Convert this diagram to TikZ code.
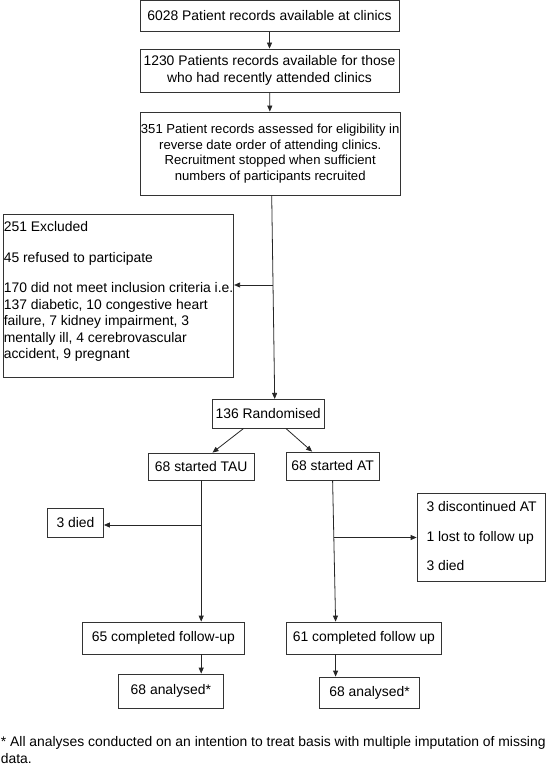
\documentclass[tikz,border=0pt]{standalone}
\usepackage{fontspec}
\setmainfont{Liberation Sans}
\usetikzlibrary{arrows.meta}

\tikzstyle{box} = [draw=black!80, line width=0.8pt, inner sep=1pt, align=center, font=\fontsize{13.9}{16.5}\selectfont]
\tikzstyle{list} = [inner sep=0pt, align=left, anchor=north west, font=\fontsize{13.9}{16.5}\selectfont]
\tikzstyle{arr} = [draw=black!85, line width=0.8pt, -{Triangle[length=6pt,width=5pt]}]

\begin{document}
\begin{tikzpicture}[x=1pt, y=-1pt]
\useasboundingbox (0,0) rectangle (548,765);

\node[box, minimum width=259pt, minimum height=31pt] (avail) at (269.5,16) {6028 Patient records available at clinics};
\node[box, minimum width=259pt, minimum height=43pt] (recent) at (269.5,70.5) {1230 Patients records available for those\\who had recently attended clinics};
\node[box, minimum width=260pt, minimum height=83pt, font=\fontsize{13.1}{15.6}\selectfont] (assess) at (270.2,153.5) {351 Patient records assessed for eligibility in\\reverse date order of attending clinics.\\Recruitment stopped when sufficient\\numbers of participants recruited};

\node[box, minimum width=230.4pt, minimum height=163pt] (excl) at (118.5,295.5) {};
\node[list] (excltext) at ([xshift=0.7pt,yshift=-7.7pt]excl.north west) {251 Excluded\\[14.2pt]
45 refused to participate\\[14.2pt]
170 did not meet inclusion criteria i.e.\\
137 diabetic, 10 congestive heart\\
failure, 7 kidney impairment, 3\\
mentally ill, 4 cerebrovascular\\
accident, 9 pregnant};

\node[box, minimum width=111.7pt, minimum height=28.7pt] (rand) at (268.2,413.7) {136 Randomised};
\node[box, minimum width=106pt, minimum height=27pt] (tau) at (201.2,466.5) {68 started TAU};
\node[box, minimum width=92.6pt, minimum height=28pt] (at) at (332.6,466) {68 started AT};

\node[box, minimum width=56pt, minimum height=29pt] (died) at (75.5,522.5) {3 died};
\node[box, minimum width=128pt, minimum height=88pt] (drop) at (481,537) {};
\node[list] (droptext) at ([xshift=9.7pt,yshift=-8.7pt]drop.north west) {3 discontinued AT\\[13pt]
1 lost to follow up\\[13pt]
3 died};

\node[box, minimum width=161.8pt, minimum height=32pt] (doneL) at (163.4,638) {65 completed follow-up};
\node[box, minimum width=155.1pt, minimum height=32pt] (doneR) at (363.9,638) {61 completed follow up};
\node[box, minimum width=105.6pt, minimum height=34pt] (anaL) at (170.9,691) {68 analysed*};
\node[box, minimum width=99.6pt, minimum height=31pt] (anaR) at (369.6,692.5) {68 analysed*};

\node[list, font=\fontsize{13.9}{17.3}\selectfont] (note) at (0.7,736) {* All analyses conducted on an intention to treat basis with multiple imputation of missing\\data.};

\coordinate (exclsplit) at (273,285);
\coordinate (diedsplit) at (201.2,525);
\coordinate (dropsplit) at (334.2,537.5);

\draw[arr] (avail) -- (recent);
\draw[arr] (recent) -- (assess);
\draw[arr] ([xshift=1.5pt]assess.south) -- ([xshift=4.5pt]assess.south |- rand.north);
\draw[arr] (exclsplit) -- (exclsplit -| excl.east);
\draw[arr] ([xshift=-24.6pt]rand.south) -- ([xshift=11.3pt]tau.north);
\draw[arr] ([xshift=17.7pt]rand.south) -- ([xshift=-20.5pt]at.north);
\draw[arr] (tau) -- (tau |- doneL.north);
\draw[arr] (diedsplit) -- (diedsplit -| died.east);
\draw[arr] (at.south) -- ([xshift=3pt]at.south |- doneR.north);
\draw[arr] (dropsplit) -- (dropsplit -| drop.west);
\draw[arr] (tau |- doneL.south) -- (tau |- anaL.north);
\draw[arr] ([xshift=3pt]at.south |- doneR.south) -- ([xshift=3pt]at.south |- anaR.north);
\end{tikzpicture}
\end{document}
